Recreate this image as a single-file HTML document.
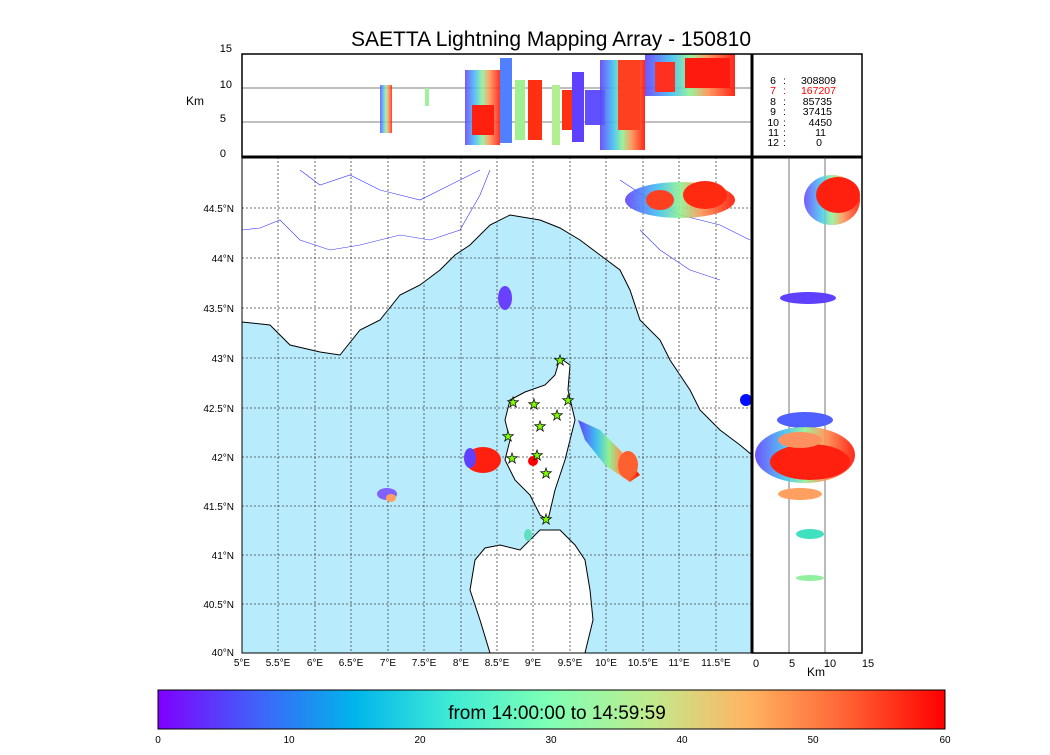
<!DOCTYPE html>
<html><head><meta charset="utf-8"><style>
body{margin:0;background:#fff;width:1050px;height:750px;overflow:hidden;font-family:"Liberation Sans",sans-serif}
</style></head><body>
<svg width="1050" height="750" xmlns="http://www.w3.org/2000/svg" font-family="Liberation Sans, sans-serif">
<defs>
<linearGradient id="rb" x1="0" x2="1" y1="0" y2="0">
<stop offset="0" stop-color="#8000ff"/><stop offset="0.125" stop-color="#4062fa"/><stop offset="0.25" stop-color="#00b5eb"/><stop offset="0.375" stop-color="#40ecd4"/><stop offset="0.5" stop-color="#80ffb4"/><stop offset="0.625" stop-color="#c0eb8d"/><stop offset="0.75" stop-color="#ffb462"/><stop offset="0.875" stop-color="#ff6232"/><stop offset="1" stop-color="#ff0000"/>
</linearGradient>
<linearGradient id="vb" x1="0" x2="1" y1="0" y2="0">
<stop offset="0" stop-color="#6040ff"/><stop offset="0.3" stop-color="#40c0f0"/><stop offset="0.5" stop-color="#90f090"/><stop offset="0.7" stop-color="#ff9050"/><stop offset="1" stop-color="#ff1000"/>
</linearGradient>
</defs>
<text x="551" y="46" font-size="21" text-anchor="middle">SAETTA Lightning Mapping Array - 150810</text>
<rect x="242" y="157" width="510" height="496" fill="#fff"/>
<polygon fill="#b8ecfc" stroke="#000" stroke-width="1" points="242,322 270,325 290,345 320,352 340,355 360,330 380,320 400,295 420,285 440,270 455,255 470,245 490,225 510,215 540,220 560,228 580,240 600,255 620,270 630,290 640,320 660,340 670,360 690,390 700,410 720,430 740,445 752,455 752,653 242,653"/>
<polygon fill="#fff" stroke="#000" points="560,358 570,365 568,390 575,420 570,440 565,460 555,490 548,520 540,515 530,495 515,480 505,460 510,440 505,420 510,400 525,392 545,385 555,375"/>
<polygon fill="#fff" stroke="#000" points="540,530 560,530 575,545 585,560 590,590 593,620 585,653 490,653 480,620 470,590 475,560 485,548 500,545 520,550"/>
<g stroke="#00f" stroke-width="0.6" fill="none" opacity="0.8">
<path d="M242,230 L260,228 L280,220 L300,240 L330,250 L360,245 L400,235 L430,240 L460,230 L480,195 L490,170"/>
<path d="M300,170 L320,185 L350,175 L380,190 L420,200 L450,185 L480,170"/>
<path d="M620,180 L650,200 L680,215 L720,225 L750,240"/>
<path d="M640,230 L660,250 L690,270 L720,280"/>
</g>
<g stroke="#444" stroke-width="0.8" stroke-dasharray="2,2">
<line x1="278" y1="157" x2="278" y2="653"/><line x1="315" y1="157" x2="315" y2="653"/><line x1="351" y1="157" x2="351" y2="653"/><line x1="388" y1="157" x2="388" y2="653"/><line x1="424" y1="157" x2="424" y2="653"/><line x1="461" y1="157" x2="461" y2="653"/><line x1="497" y1="157" x2="497" y2="653"/><line x1="533" y1="157" x2="533" y2="653"/><line x1="570" y1="157" x2="570" y2="653"/><line x1="606" y1="157" x2="606" y2="653"/><line x1="643" y1="157" x2="643" y2="653"/><line x1="679" y1="157" x2="679" y2="653"/><line x1="716" y1="157" x2="716" y2="653"/>
<line x1="242" y1="208" x2="752" y2="208"/><line x1="242" y1="258" x2="752" y2="258"/><line x1="242" y1="308" x2="752" y2="308"/><line x1="242" y1="358" x2="752" y2="358"/><line x1="242" y1="408" x2="752" y2="408"/><line x1="242" y1="457" x2="752" y2="457"/><line x1="242" y1="506" x2="752" y2="506"/><line x1="242" y1="555" x2="752" y2="555"/><line x1="242" y1="604" x2="752" y2="604"/>
</g>
<g>
<ellipse cx="680" cy="200" rx="55" ry="18" fill="url(#vb)" opacity="0.9"/>
<ellipse cx="705" cy="195" rx="22" ry="14" fill="#ff2a10"/>
<ellipse cx="660" cy="200" rx="14" ry="10" fill="#ff4020"/>
<ellipse cx="505" cy="298" rx="7" ry="12" fill="#6a40ff"/>
<ellipse cx="483" cy="460" rx="18" ry="13" fill="#ff2010"/>
<ellipse cx="470" cy="458" rx="6" ry="10" fill="#6040ff"/>
<path d="M578,420 L600,430 L620,450 L640,475 L630,482 L605,465 L585,440 Z" fill="url(#vb)"/>
<ellipse cx="628" cy="465" rx="10" ry="14" fill="#ff6030"/>
<ellipse cx="387" cy="494" rx="10" ry="6" fill="#8060ff"/>
<ellipse cx="391" cy="498" rx="5" ry="4" fill="#ffa060"/>
<ellipse cx="533" cy="461" rx="5" ry="5" fill="#ff0000"/>
<ellipse cx="528" cy="535" rx="4" ry="6" fill="#60e0c0"/>
<ellipse cx="746" cy="400" rx="6" ry="6" fill="#0010ff"/>
</g>
<g fill="#80ff00" stroke="#000" stroke-width="0.7" font-size="14" text-anchor="middle">
<text x="560" y="365">★</text><text x="513" y="407">★</text><text x="534" y="409">★</text><text x="568" y="405">★</text><text x="557" y="420">★</text><text x="540" y="431">★</text><text x="508" y="441">★</text><text x="512" y="463">★</text><text x="537" y="460">★</text><text x="546" y="478">★</text><text x="546" y="524">★</text>
</g>
<rect x="242" y="157" width="510" height="496" fill="none" stroke="#000" stroke-width="1"/>
<line x1="242" y1="88" x2="752" y2="88" stroke="#555" stroke-width="0.8"/>
<line x1="242" y1="122" x2="752" y2="122" stroke="#555" stroke-width="0.8"/>
<g>
<rect x="380" y="85" width="12" height="48" fill="url(#vb)" opacity="0.8"/>
<rect x="425" y="88" width="4" height="18" fill="#a0f0a0"/>
<rect x="465" y="70" width="35" height="75" fill="url(#vb)" opacity="0.85"/>
<rect x="472" y="105" width="22" height="30" fill="#ff2010"/>
<rect x="500" y="58" width="12" height="85" fill="#5080ff"/>
<rect x="515" y="80" width="10" height="60" fill="#a0f090"/>
<rect x="528" y="80" width="14" height="60" fill="#ff3010"/>
<rect x="552" y="85" width="8" height="60" fill="#b0f090"/>
<rect x="562" y="90" width="10" height="40" fill="#ff3010"/>
<rect x="572" y="72" width="12" height="70" fill="#6040ff"/>
<rect x="585" y="90" width="20" height="35" fill="#6050ff"/>
<rect x="600" y="60" width="45" height="90" fill="url(#vb)" opacity="0.9"/>
<rect x="618" y="60" width="22" height="70" fill="#ff4020"/>
<rect x="645" y="54" width="90" height="42" fill="url(#vb)" opacity="0.9"/>
<rect x="685" y="58" width="45" height="30" fill="#ff1a10"/>
<rect x="655" y="62" width="20" height="30" fill="#ff3020"/>
</g>
<rect x="242" y="54" width="620" height="103" fill="none" stroke="#000" stroke-width="1.5"/>
<line x1="242" y1="157" x2="862" y2="157" stroke="#000" stroke-width="3"/>
<g font-size="11" text-anchor="end">
<text x="232" y="52">15</text><text x="232" y="88">10</text><text x="226" y="122">5</text><text x="226" y="157">0</text>
</g>
<text x="186" y="105" font-size="12">Km</text>
<g font-size="10.5">
<g text-anchor="end"><text x="776" y="84">6</text><text x="776" y="94" fill="#f00">7</text><text x="776" y="105">8</text><text x="776" y="115">9</text><text x="779" y="126">10</text><text x="779" y="136">11</text><text x="779" y="146">12</text></g>
<g><text x="783" y="84">:</text><text x="783" y="94" fill="#f00">:</text><text x="783" y="105">:</text><text x="783" y="115">:</text><text x="783" y="126">:</text><text x="783" y="136">:</text><text x="783" y="146">:</text></g>
<g text-anchor="end"><text x="836" y="84">308809</text><text x="836" y="94" fill="#f00">167207</text><text x="832" y="105">85735</text><text x="832" y="115">37415</text><text x="832" y="126">4450</text><text x="826" y="136">11</text><text x="822" y="146">0</text></g>
</g>
<line x1="789" y1="157" x2="789" y2="653" stroke="#555" stroke-width="0.8"/>
<line x1="825" y1="157" x2="825" y2="653" stroke="#555" stroke-width="0.8"/>
<g>
<ellipse cx="832" cy="200" rx="28" ry="25" fill="url(#vb)" opacity="0.85"/>
<ellipse cx="838" cy="195" rx="22" ry="18" fill="#ff2010"/>
<ellipse cx="808" cy="298" rx="28" ry="6" fill="#6040ff"/>
<ellipse cx="805" cy="420" rx="28" ry="8" fill="#5060ff"/>
<ellipse cx="805" cy="455" rx="50" ry="28" fill="url(#vb)" opacity="0.9"/>
<ellipse cx="810" cy="462" rx="40" ry="18" fill="#ff2010"/>
<ellipse cx="800" cy="440" rx="22" ry="8" fill="#ff9060"/>
<ellipse cx="800" cy="494" rx="22" ry="6" fill="#ffa060"/>
<ellipse cx="810" cy="534" rx="14" ry="5" fill="#40e0c0"/>
<ellipse cx="810" cy="578" rx="14" ry="3" fill="#90f0a0"/>
</g>
<rect x="752" y="157" width="110" height="496" fill="none" stroke="#000" stroke-width="1.5"/>
<line x1="752" y1="54" x2="752" y2="653" stroke="#000" stroke-width="3"/>
<g font-size="10" text-anchor="end">
<text x="234" y="212">44.5°N</text><text x="234" y="262">44°N</text><text x="234" y="312">43.5°N</text><text x="234" y="362">43°N</text><text x="234" y="412">42.5°N</text><text x="234" y="461">42°N</text><text x="234" y="510">41.5°N</text><text x="234" y="559">41°N</text><text x="234" y="608">40.5°N</text><text x="234" y="656">40°N</text>
</g>
<g font-size="10" text-anchor="middle">
<text x="242" y="666">5°E</text><text x="278" y="666">5.5°E</text><text x="315" y="666">6°E</text><text x="351" y="666">6.5°E</text><text x="388" y="666">7°E</text><text x="424" y="666">7.5°E</text><text x="461" y="666">8°E</text><text x="497" y="666">8.5°E</text><text x="533" y="666">9°E</text><text x="570" y="666">9.5°E</text><text x="606" y="666">10°E</text><text x="643" y="666">10.5°E</text><text x="679" y="666">11°E</text><text x="716" y="666">11.5°E</text>
<text x="756" y="667" font-size="11">0</text><text x="792" y="667" font-size="11">5</text><text x="830" y="667" font-size="11">10</text><text x="868" y="667" font-size="11">15</text>
</g>
<text x="807" y="676" font-size="12">Km</text>
<rect x="158" y="690" width="787" height="39" fill="url(#rb)" stroke="#000"/>
<text x="557" y="719" font-size="19" text-anchor="middle">from 14:00:00 to 14:59:59</text>
<g font-size="10" text-anchor="middle">
<text x="158" y="743">0</text><text x="289" y="743">10</text><text x="420" y="743">20</text><text x="551" y="743">30</text><text x="682" y="743">40</text><text x="813" y="743">50</text><text x="945" y="743">60</text>
</g>
</svg>
</body></html>
